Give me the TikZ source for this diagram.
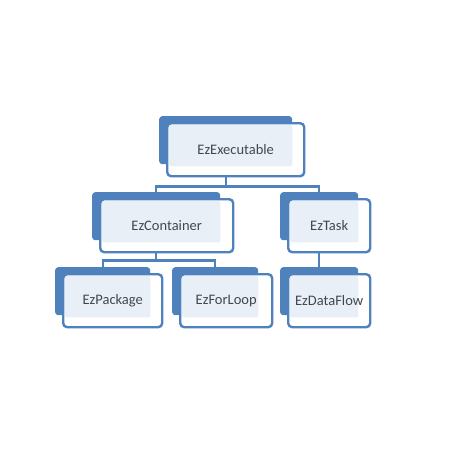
\documentclass[tikz,border=0pt]{standalone}
\usepackage{fontspec}
\setmainfont{Carlito}
\usepackage{xcolor}
\usetikzlibrary{positioning}
\definecolor{boxblue}{HTML}{4F81BD}
\definecolor{labelgray}{HTML}{404040}

\begin{document}
\begin{tikzpicture}[
  x=1pt, y=-1pt,
  back/.style={fill=boxblue, rounded corners=3pt, anchor=north west,
    inner sep=0pt, minimum height=48pt},
  front/.style={draw=boxblue, line width=2.4pt, fill=white, rounded corners=4pt,
    inner sep=0pt, minimum height=53pt, font=\fontsize{14.5}{16}\selectfont,
    text=labelgray},
  tint/.style={fill=boxblue, fill opacity=0.12, rounded corners=2pt},
  link/.style={draw=boxblue, line width=2.4pt},
]
  \useasboundingbox (0,0) rectangle (450,450);

  % Root
  \node[back, minimum width=133pt] (exeback) at (159,116) {};
  \node[front, minimum width=137pt, below right=6pt and 7pt of exeback.north west] (exe) {EzExecutable};
  \fill[tint] ([shift={(3,3)}]exe.north west) rectangle ([shift={(0,2)}]exeback.south east);

  % Second level
  \node[back, minimum width=128pt] (conback) at (92,192) {};
  \node[front, minimum width=133pt, below right=6pt and 7pt of conback.north west] (con) {EzContainer};
  \fill[tint] ([shift={(3,3)}]con.north west) rectangle ([shift={(0,2)}]conback.south east);

  \node[back, minimum width=78pt] (taskback) at (280,192) {};
  \node[front, minimum width=82pt, below right=6pt and 7pt of taskback.north west] (task) {EzTask};
  \fill[tint] ([shift={(3,3)}]task.north west) rectangle ([shift={(0,2)}]taskback.south east);

  % Third level
  \node[back, minimum width=95pt] (pkgback) at (55,267) {};
  \node[front, minimum width=99pt, below right=6pt and 7pt of pkgback.north west] (pkg) {EzPackage};
  \fill[tint] ([shift={(3,3)}]pkg.north west) rectangle ([shift={(0,2)}]pkgback.south east);

  \node[back, minimum width=86pt] (loopback) at (172,267) {};
  \node[front, minimum width=92pt, below right=6pt and 7pt of loopback.north west] (loop) {EzForLoop};
  \fill[tint] ([shift={(3,3)}]loop.north west) rectangle ([shift={(0,2)}]loopback.south east);

  \node[back, minimum width=78pt] (flowback) at (280,267) {};
  \node[front, minimum width=82pt, below right=6pt and 7pt of flowback.north west] (flow) {EzDataFlow};
  \fill[tint] ([shift={(3,3)}]flow.north west) rectangle ([shift={(0,2)}]flowback.south east);

  % Connectors
  \draw[link] (exeback.south |- exe.south) -- ++(0,9) -| (conback.north);
  \draw[link] (exeback.south |- exe.south) -- ++(0,9) -| (taskback.north);
  \draw[link] (conback.south |- con.south) -- ++(0,7) -| (pkgback.north);
  \draw[link] (conback.south |- con.south) -- ++(0,7) -| (loopback.north);
  \draw[link] (taskback.south |- task.south) -- (flowback.north);
\end{tikzpicture}
\end{document}
